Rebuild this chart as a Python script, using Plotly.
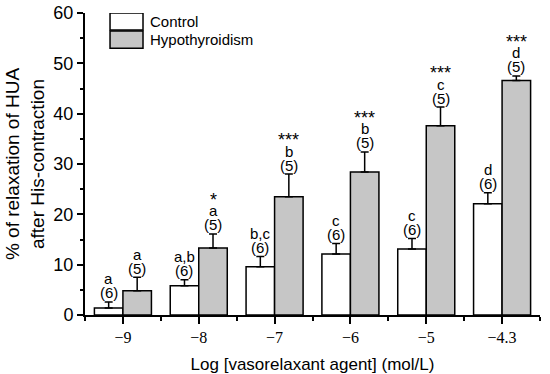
import plotly.graph_objects as go

categories = ["\u22129", "\u22128", "\u22127", "\u22126", "\u22125", "\u22124.3"]
control_mean = [1.4, 5.8, 9.6, 12.1, 13.1, 22.1]
control_sem = [1.2, 1.2, 2.0, 2.1, 2.1, 2.2]
hypo_mean = [4.8, 13.3, 23.5, 28.4, 37.6, 46.6]
hypo_sem = [2.7, 2.8, 4.5, 4.0, 3.7, 0.9]
control_letters = ["a", "a,b", "b,c", "c", "c", "d"]
hypo_letters = ["a", "a", "b", "b", "c", "d"]
hypo_stars = ["", "*", "***", "***", "***", "***"]
control_n = ["(6)"] * 6
hypo_n = ["(5)"] * 6

xs = list(range(len(categories)))
BAR_W = 0.376

fig = go.Figure()
fig.add_trace(go.Bar(
    x=xs, y=control_mean, name="Control", offsetgroup="c",
    marker=dict(color="white", line=dict(color="black", width=1.5)),
    error_y=dict(type="data", symmetric=False, array=control_sem,
                 arrayminus=[0] * len(xs), thickness=1.5, width=4, color="black"),
    showlegend=False,
))
fig.add_trace(go.Bar(
    x=xs, y=hypo_mean, name="Hypothyroidism", offsetgroup="h",
    marker=dict(color="#c6c6c6", line=dict(color="black", width=1.5)),
    error_y=dict(type="data", symmetric=False, array=hypo_sem,
                 arrayminus=[0] * len(xs), thickness=1.5, width=4, color="black"),
    showlegend=False,
))

afont = dict(family="Liberation Sans, Arial", size=15, color="black")
sfont = dict(family="Liberation Sans, Arial", size=18, color="black")
ann = []
for i in xs:
    top_c = control_mean[i] + control_sem[i]
    top_h = hypo_mean[i] + hypo_sem[i]
    xc = i - BAR_W / 2
    xh = i + BAR_W / 2
    for txt, sh in [(control_n[i], 9), (control_letters[i], 23)]:
        ann.append(dict(x=xc, y=top_c, text=txt, showarrow=False, yanchor="middle",
                        yshift=sh, font=afont, borderpad=0))
    for txt, sh in [(hypo_n[i], 9), (hypo_letters[i], 23)]:
        ann.append(dict(x=xh, y=top_h, text=txt, showarrow=False, yanchor="middle",
                        yshift=sh, font=afont, borderpad=0))
    if hypo_stars[i]:
        ann.append(dict(x=xh, y=top_h, text=hypo_stars[i], showarrow=False, yanchor="middle",
                        yshift=34, font=sfont, borderpad=0))

# legend drawn manually
legend_items = [("Control", "white", 60.0, 56.6), ("Hypothyroidism", "#c6c6c6", 56.4, 53.0)]
shapes = []
for name, col, y0, y1 in legend_items:
    shapes.append(dict(type="rect", xref="x", yref="y", x0=-0.17, x1=0.265, y0=y1, y1=y0,
                       fillcolor=col, line=dict(color="black", width=1.5)))
    ann.append(dict(x=0.33, y=(y0 + y1) / 2, text=name, showarrow=False, xanchor="left",
                    yanchor="middle", font=dict(family="Liberation Sans, Arial", size=15, color="black")))

fig.update_layout(
    width=550, height=374,
    margin=dict(l=85, r=10, t=13, b=59),
    paper_bgcolor="white", plot_bgcolor="white",
    barmode="group", bargap=0.248, bargroupgap=0,
    annotations=ann, shapes=shapes,
    xaxis=dict(
        range=[-0.5, 5.5], tickmode="array", tickvals=xs, ticktext=categories,
        ticks="outside", ticklen=7, tickwidth=1.5, tickcolor="black", automargin=False,
        showline=True, linecolor="black", linewidth=2, showgrid=False, zeroline=False,
        tickfont=dict(family="Liberation Serif, Times New Roman", size=16, color="black"),
        minor=dict(tick0=0.5, dtick=1, ticks="outside", ticklen=4, tickwidth=1.5, tickcolor="black"),
        title=dict(text="Log [vasorelaxant agent] (mol/L)", standoff=14,
                   font=dict(family="Liberation Sans, Arial", size=17, color="black")),
    ),
    yaxis=dict(
        range=[0, 60], dtick=10, ticks="outside", ticklen=6, tickwidth=1.5, tickcolor="black",
        showline=True, linecolor="black", linewidth=2, showgrid=False, zeroline=False,
        automargin=False,
        tickfont=dict(family="Liberation Sans, Arial", size=18, color="black"),
        minor=dict(dtick=5, ticks="outside", ticklen=3, tickwidth=1.5, tickcolor="black"),
        title=dict(text="% of relaxation of HUA<br>after His-contraction", standoff=4,
                   font=dict(family="Liberation Sans, Arial", size=19, color="black")),
    ),
)

fig.write_html("out.html", config={"displayModeBar": False},
               post_script="document.body.style.margin='0';document.body.style.overflow='hidden';")
